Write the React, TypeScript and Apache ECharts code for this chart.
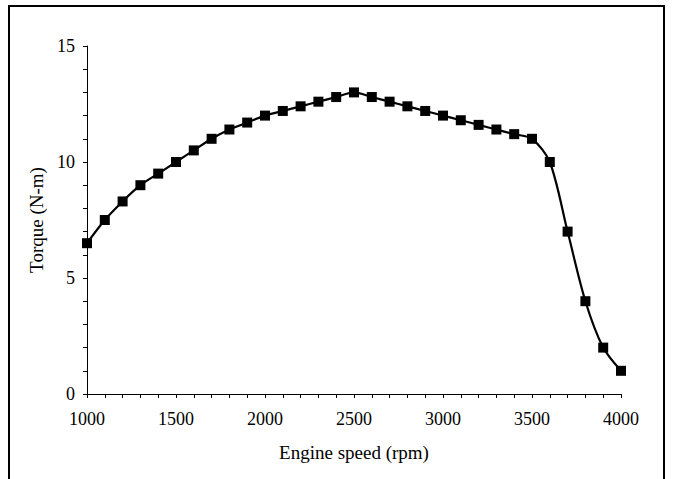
import React, { useEffect, useRef } from "react";
import * as echarts from "echarts";

const speeds = [1000, 1100, 1200, 1300, 1400, 1500, 1600, 1700, 1800, 1900, 2000, 2100, 2200, 2300, 2400, 2500, 2600, 2700, 2800, 2900, 3000, 3100, 3200, 3300, 3400, 3500, 3600, 3700, 3800, 3900, 4000];
const torque = [6.5, 7.5, 8.3, 9.0, 9.5, 10.0, 10.5, 11.0, 11.4, 11.7, 12.0, 12.2, 12.4, 12.6, 12.8, 13.0, 12.8, 12.6, 12.4, 12.2, 12.0, 11.8, 11.6, 11.4, 11.2, 11.0, 10.0, 7.0, 4.0, 2.0, 1.0];
const xTitle = "Engine speed (rpm)";
const yTitle = "Torque (N-m)";

export default function App() {
  const ref = useRef<HTMLDivElement>(null);
  useEffect(() => {
    document.body.style.margin = "0";
    const chart = echarts.init(ref.current!, null, { renderer: "svg" });
    const font = "Liberation Serif";
    chart.setOption({
      animation: false,
      backgroundColor: "#fff",
      textStyle: { fontFamily: font },
      graphic: [
        {
          type: "rect",
          shape: { x: 9, y: 6, width: 655, height: 500 },
          style: { fill: "none", stroke: "#000", lineWidth: 2 },
          silent: true,
        },
      ],
      grid: { left: 87, right: 52, top: 46, bottom: 85 },
      xAxis: {
        type: "value",
        min: 1000,
        max: 4000,
        interval: 500,
        name: xTitle,
        nameLocation: "middle",
        nameGap: 49,
        nameTextStyle: { color: "#000", fontFamily: font, fontSize: 19 },
        axisLine: { lineStyle: { color: "#000", width: 1 } },
        axisTick: { show: true, length: 4, lineStyle: { color: "#000" } },
        minorTick: { show: true, splitNumber: 5, length: 4, lineStyle: { color: "#000" } },
        axisLabel: { color: "#000", fontFamily: font, fontSize: 18, margin: 16, formatter: (v: number) => String(v) },
        splitLine: { show: false },
      },
      yAxis: {
        type: "value",
        min: 0,
        max: 15,
        interval: 5,
        name: yTitle,
        nameLocation: "middle",
        nameGap: 36,
        nameTextStyle: { color: "#000", fontFamily: font, fontSize: 19 },
        axisLine: { show: true, lineStyle: { color: "#000", width: 1 } },
        axisTick: { show: true, length: 4, lineStyle: { color: "#000" } },
        minorTick: { show: true, splitNumber: 5, length: 4, lineStyle: { color: "#000" } },
        axisLabel: { color: "#000", fontFamily: font, fontSize: 18, margin: 12 },
        splitLine: { show: false },
      },
      series: [
        {
          type: "line",
          data: speeds.map((s, i) => [s, torque[i]]),
          smooth: 0.3,
          symbol: "rect",
          symbolSize: 10,
          itemStyle: { color: "#000" },
          lineStyle: { color: "#000", width: 2.2 },
        },
      ],
    });
    return () => chart.dispose();
  }, []);
  return <div ref={ref} style={{ position: "absolute", left: 0, top: 0, width: 673, height: 479 }} />;
}
